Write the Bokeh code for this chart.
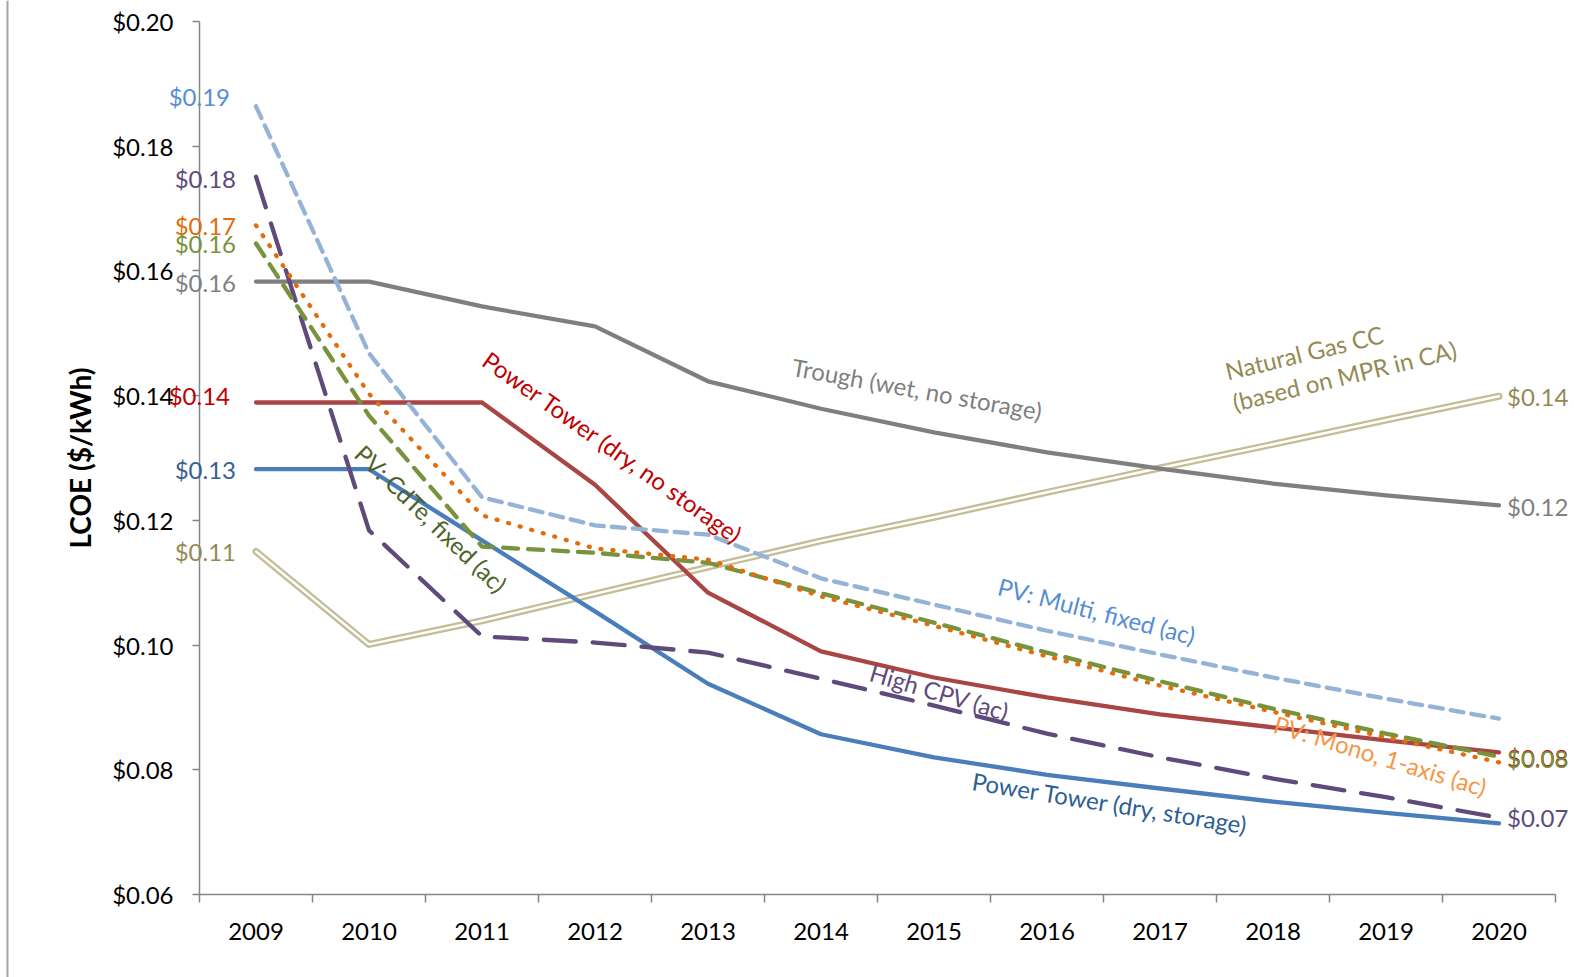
import math
from bokeh.plotting import figure
from bokeh.models import FixedTicker, NumeralTickFormatter, ColumnDataSource, LabelSet, Span
from bokeh.core.properties import value
from bokeh.embed import file_html
from bokeh.resources import INLINE

years = ["2009", "2010", "2011", "2012", "2013", "2014", "2015", "2016", "2017", "2018", "2019", "2020"]

trough = [0.1583, 0.1583, 0.1543, 0.1511, 0.1423, 0.1379, 0.1341, 0.1309, 0.1283, 0.1259, 0.1240, 0.1224]
tower_nostorage = [0.1389, 0.1389, 0.1389, 0.1257, 0.1084, 0.0990, 0.0948, 0.0916, 0.0889, 0.0868, 0.0847, 0.0828]
tower_storage = [0.1282, 0.1282, 0.1168, 0.1054, 0.0938, 0.0857, 0.0820, 0.0792, 0.0770, 0.0749, 0.0731, 0.0714]
pv_multi = [0.1864, 0.1468, 0.1237, 0.1192, 0.1177, 0.1107, 0.1065, 0.1023, 0.0985, 0.0948, 0.0914, 0.0882]
high_cpv = [0.1751, 0.1184, 0.1014, 0.1004, 0.0988, 0.0946, 0.0903, 0.0858, 0.0820, 0.0786, 0.0756, 0.0723]
pv_mono = [0.1673, 0.1403, 0.1208, 0.1155, 0.1137, 0.1078, 0.1031, 0.0982, 0.0935, 0.0893, 0.0852, 0.0812]
pv_cdte = [0.1644, 0.1368, 0.1158, 0.1148, 0.1132, 0.1083, 0.1036, 0.0988, 0.0942, 0.0898, 0.0858, 0.0821]
natgas = [0.1150, 0.1001, 0.1039, 0.1082, 0.1125, 0.1167, 0.1205, 0.1245, 0.1284, 0.1322, 0.1361, 0.1399]

y_ticks = [0.06, 0.08, 0.10, 0.12, 0.14, 0.16, 0.18, 0.20]

# start / end value labels
left_labels = ["$0.19", "$0.18", "$0.17", "$0.16", "$0.16", "$0.14", "$0.13", "$0.11"]
right_labels = ["$0.14", "$0.12", "$0.08", "$0.08", "$0.07"]

# series names and their on-chart label placement (x in category units, y in $/kWh, angle in degrees)
series_names = ["Trough (wet, no storage)", "Power Tower (dry, no storage)", "PV: CdTe, fixed (ac)",
                "PV: Multi, fixed (ac)", "High CPV (ac)", "Power Tower (dry, storage)",
                "PV: Mono, 1-axis (ac)", "Natural Gas CC\n(based on MPR in CA)"]
name_x = [6.35, 3.66, 2.05, 7.94, 6.55, 8.06, 10.45, 10.10]
name_y = [0.1411, 0.1317, 0.1203, 0.1055, 0.0925, 0.0747, 0.0823, 0.1457]
name_angle = [-10.2, -35.4, -44.0, -14.4, -16.5, -9.2, -17.0, 13.5]
name_color = ["#7f7f7f", "#c00000", "#4f6228", "#558ed5", "#604a7b", "#2f5f98", "#f79646", "#948a54"]

FONT = "Lato"
FS = "24px"
xs = [i + 0.5 for i in range(len(years))]

# canvas geometry: plot area spans px 199..1555 horizontally and 21..894 vertically
W, H = 1574, 977
PX_X = (1555 - 199) / 12.0
PX_Y = (894 - 21) / 0.14
x_start, x_end = -199 / PX_X, (W - 199) / PX_X
y_end, y_start = 0.20 + 21 / PX_Y, 0.06 - (H - 894) / PX_Y

p = figure(width=W, height=H, output_backend="svg", toolbar_location=None,
           x_range=(x_start, x_end), y_range=(y_start, y_end),
           min_border_left=0, min_border_right=0, min_border_top=0, min_border_bottom=0)
p.outline_line_color = None
p.xgrid.visible = False
p.ygrid.visible = False
p.background_fill_color = "white"
p.border_fill_color = "white"

# axes
xa = p.xaxis[0]
xa.fixed_location = 0.06
xa.bounds = (0, 12)
xa.ticker = FixedTicker(ticks=xs, minor_ticks=[float(i) for i in range(13)])
xa.major_label_overrides = {x: y for x, y in zip(xs, years)}
xa.major_tick_line_color = None
xa.minor_tick_out = 8
xa.minor_tick_in = 0
xa.minor_tick_line_color = "#868686"
xa.minor_tick_line_width = 1.5
xa.axis_line_color = "#868686"
xa.axis_line_width = 1.5
xa.major_label_standoff = 20
xa.major_label_text_font = FONT
xa.major_label_text_font_size = FS
xa.major_label_text_color = "black"

ya = p.yaxis[0]
ya.fixed_location = 0
ya.bounds = (0.06, 0.20)
ya.ticker = FixedTicker(ticks=y_ticks)
ya.formatter = NumeralTickFormatter(format="$0.00")
ya.major_tick_out = 7
ya.major_tick_in = 0
ya.minor_tick_line_color = None
ya.major_tick_line_color = "#868686"
ya.major_tick_line_width = 1.5
ya.axis_line_color = "#868686"
ya.axis_line_width = 1.5
ya.major_label_standoff = 19
ya.major_label_text_font = FONT
ya.major_label_text_font_size = FS
ya.major_label_text_color = "black"
ya.axis_label = "LCOE ($/kWh)"
ya.axis_label_text_font = FONT
ya.axis_label_text_font_style = "bold"
ya.axis_label_text_font_size = "28px"
ya.axis_label_text_color = "black"
ya.axis_label_standoff = 12

# left edge line of the chart area
p.add_layout(Span(location=x_start + 7 / PX_X, dimension="height", line_color="#a6a6a6", line_width=2))

# natural gas double line
p.line(xs, natgas, line_color="#c4bd97", line_width=7, line_join="round", line_cap="round")
p.line(xs, natgas, line_color="white", line_width=2.4, line_join="round", line_cap="round")

p.line(xs, trough, line_color="#7f7f7f", line_width=4.3, line_join="round", line_cap="round")
p.line(xs, tower_nostorage, line_color="#a94542", line_width=4.3, line_join="round", line_cap="round")
p.line(xs, tower_storage, line_color="#4a7ebb", line_width=4.3, line_join="round", line_cap="round")
p.line(xs, pv_multi, line_color="#95b3d7", line_width=4.3, line_dash="13 8", line_cap="round")
p.line(xs, high_cpv, line_color="#604a7b", line_width=4.3, line_dash="32 17", line_cap="round")
p.line(xs, pv_cdte, line_color="#77933c", line_width=4.3, line_dash="15 10", line_cap="round")
p.line(xs, pv_mono, line_color="#e46c0a", line_width=4.3, line_dash="1 11", line_cap="round")

# value labels at 2009 (left)
left_vals = [pv_multi[0], high_cpv[0], pv_mono[0], pv_cdte[0], trough[0], tower_nostorage[0], tower_storage[0], natgas[0]]
left_cols = ["#558ed5", "#604a7b", "#e46c0a", "#77933c", "#7f7f7f", "#c00000", "#376092", "#948a54"]
left_xoff = [-26, -20, -20, -20, -20, -26, -20, -20]
left_yoff = [10, -2, 0, 0, -1, 7, 0, 0]
src_l = ColumnDataSource(dict(x=[xs[0]] * len(left_vals), y=left_vals, t=left_labels, c=left_cols,
                              xo=left_xoff, yo=left_yoff))
p.add_layout(LabelSet(x="x", y="y", text="t", text_color="c", source=src_l, x_offset="xo", y_offset="yo",
                      text_align="right", text_baseline="middle", text_font=value(FONT), text_font_size=FS))

# value labels at 2020 (right)
right_vals = [natgas[-1], trough[-1], tower_nostorage[-1], pv_cdte[-1], high_cpv[-1]]
right_cols = ["#948a54", "#7f7f7f", "#c00000", "#77933c", "#604a7b"]
right_yoff = [0, -1, -5, -2, 0]
src_r = ColumnDataSource(dict(x=[xs[-1]] * len(right_vals), y=right_vals, t=right_labels, c=right_cols, yo=right_yoff))
p.add_layout(LabelSet(x="x", y="y", text="t", text_color="c", source=src_r, x_offset=8, y_offset="yo",
                      text_align="left", text_baseline="middle", text_font=value(FONT), text_font_size=FS))

# series name labels
src_n = ColumnDataSource(dict(x=name_x, y=name_y, t=series_names, c=name_color,
                              a=[math.radians(a) for a in name_angle]))
p.add_layout(LabelSet(x="x", y="y", text="t", text_color="c", angle="a", source=src_n,
                      text_align="center", text_baseline="middle", text_font=value(FONT), text_font_size=FS,
                      text_line_height=1.1))

open("out.html", "w").write(file_html(p, INLINE))
